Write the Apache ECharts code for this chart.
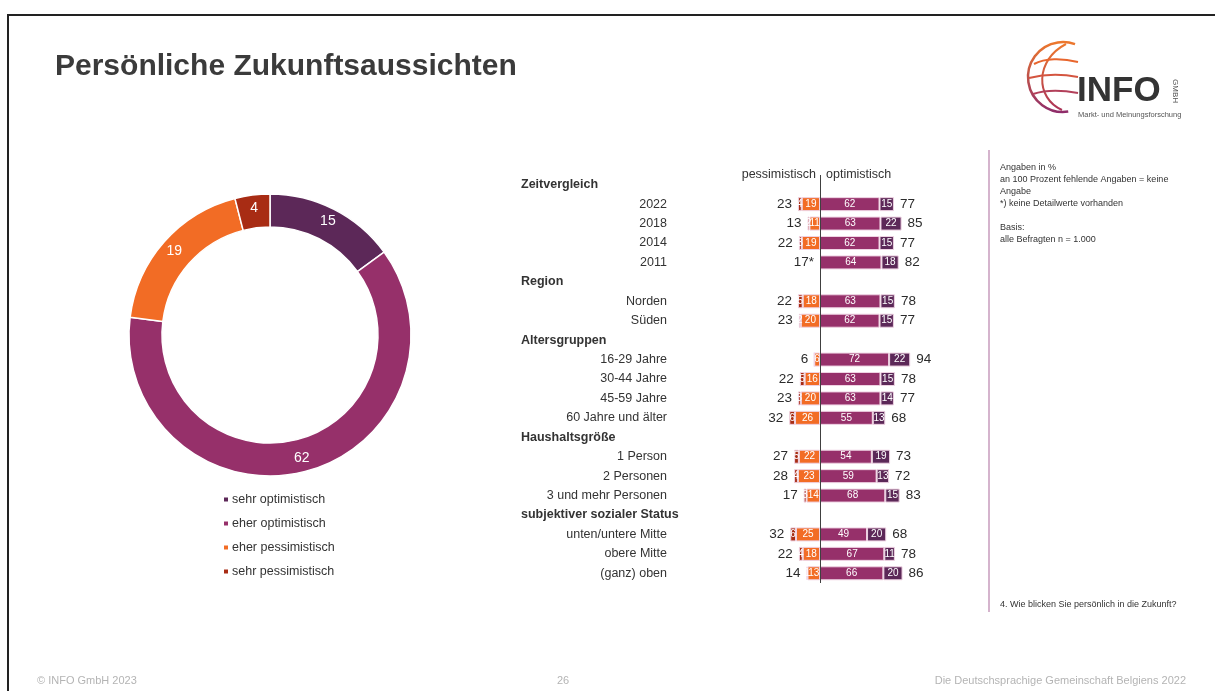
<!DOCTYPE html>
<html>
<head>
<meta charset="utf-8">
<title>Persönliche Zukunftsaussichten</title>
<script src="https://cdn.jsdelivr.net/npm/echarts@6/dist/echarts.min.js"></script>
<style>
  html, body { margin: 0; padding: 0; background: #fff; }
  #chart_main { width: 1215px; height: 691px; }
</style>
</head>
<body>
<div id="chart_main"></div>
<script>
// Donut (Gesamt)
var donutLabels = ['sehr optimistisch', 'eher optimistisch', 'eher pessimistisch', 'sehr pessimistisch'];
var donutValues = [15, 62, 19, 4];
var donutColors = ['#5c2858', '#96306a', '#f26c25', '#a82c14'];

// Balken: Zeilen (Überschriften haben keine Werte)
var rowLabels = ['Zeitvergleich', '2022', '2018', '2014', '2011',
    'Region', 'Norden', 'Süden',
    'Altersgruppen', '16-29 Jahre', '30-44 Jahre', '45-59 Jahre', '60 Jahre und älter',
    'Haushaltsgröße', '1 Person', '2 Personen', '3 und mehr Personen',
    'subjektiver sozialer Status', 'unten/untere Mitte', 'obere Mitte', '(ganz) oben'];
var headerRows = ['Zeitvergleich', 'Region', 'Altersgruppen', 'Haushaltsgröße', 'subjektiver sozialer Status'];

var sehrPess  = [null, 4, 2, 3, null, null, 5, 2, null, 0, 5, 3, 6, null, 5, 4, 3, null, 6, 4, 1];
var eherPess  = [null, 19, 11, 19, null, null, 18, 20, null, 6, 16, 20, 26, null, 22, 23, 14, null, 25, 18, 13];
var pessTotal = [null, '23', '13', '22', '17*', null, '22', '23', null, '6', '22', '23', '32', null, '27', '28', '17', null, '32', '22', '14'];
var eherOpt   = [null, 62, 63, 62, 64, null, 63, 62, null, 72, 63, 63, 55, null, 54, 59, 68, null, 49, 67, 66];
var sehrOpt   = [null, 15, 22, 15, 18, null, 15, 15, null, 22, 15, 14, 13, null, 19, 13, 15, null, 20, 11, 20];
var optTotal  = [null, '77', '85', '77', '82', null, '78', '77', null, '94', '78', '77', '68', null, '73', '72', '83', null, '68', '78', '86'];

(function () {
    var myChart = echarts.init(document.getElementById('chart_main'));

    function neg(arr) {
        return arr.map(function (v) { return v == null ? '-' : -v; });
    }
    function pos(arr) {
        return arr.map(function (v) { return v == null ? '-' : v; });
    }
    function segLabel() {
        return {
            show: true,
            position: 'inside',
            color: '#fff',
            fontSize: 10,
            fontFamily: 'Liberation Sans',
            formatter: function (p) {
                var v = Math.abs(p.value);
                return v ? String(v) : '';
            }
        };
    }

    var pessPoints = [], optPoints = [];
    rowLabels.forEach(function (r, i) {
        if (pessTotal[i] != null) {
            pessPoints.push({ name: pessTotal[i], value: [-((sehrPess[i] || 0) + (eherPess[i] || 0)), i] });
        }
        if (optTotal[i] != null) {
            optPoints.push({ name: optTotal[i], value: [(eherOpt[i] || 0) + (sehrOpt[i] || 0), i] });
        }
    });

    var border = { borderColor: '#efd3e3', borderWidth: 1 };
    var totalLabel = { show: true, distance: 6, formatter: '{b}', color: '#2b2b2b', opacity: 1, fontSize: 13.5 };

    var option = {
        animation: false,
        textStyle: { fontFamily: 'Liberation Sans' },
        title: {
            text: 'Persönliche Zukunftsaussichten',
            left: 55,
            top: 52,
            padding: 0,
            textStyle: { fontSize: 30, fontWeight: 'bold', color: '#3b3b3b', fontFamily: 'Liberation Sans' }
        },
        legend: {
            data: donutLabels,
            orient: 'vertical',
            left: 217,
            top: 488,
            itemWidth: 6,
            itemHeight: 6,
            itemGap: 11,
            icon: 'rect',
            textStyle: { fontSize: 12.5, color: '#333', padding: [0, 0, 0, -2] }
        },
        grid: {
            left: 724,
            width: 192,
            top: 175,
            height: 408,
            outerBoundsMode: 'none'
        },
        xAxis: {
            type: 'value',
            min: -100,
            max: 100,
            show: false
        },
        yAxis: [{
            type: 'category',
            data: rowLabels,
            inverse: true,
            axisLine: { show: false, onZero: false },
            axisTick: { show: false },
            axisLabel: {
                margin: 57,
                fontSize: 12.5,
                color: '#333',
                formatter: function (v) { return headerRows.indexOf(v) >= 0 ? '' : v; }
            }
        }, {
            type: 'category',
            data: rowLabels,
            inverse: true,
            position: 'left',
            axisLine: { show: false, onZero: false },
            axisTick: { show: false },
            axisLabel: {
                margin: 203,
                align: 'left',
                fontSize: 12.5,
                fontWeight: 'bold',
                color: '#333',
                formatter: function (v) { return headerRows.indexOf(v) >= 0 ? v : ''; }
            }
        }],
        series: [
            {
                type: 'pie',
                name: 'Gesamt',
                center: [270, 335],
                radius: [108, 141],
                startAngle: 90,
                clockwise: true,
                itemStyle: { borderColor: '#fff', borderWidth: 1.5 },
                label: { show: true, position: 'inside', color: '#fff', fontSize: 14, formatter: '{c}' },
                labelLine: { show: false },
                emphasis: { disabled: true },
                data: donutLabels.map(function (n, i) {
                    return { name: n, value: donutValues[i], itemStyle: { color: donutColors[i] } };
                })
            },
            {
                type: 'bar', name: 'b_eherPess', stack: 'z', barWidth: 14,
                data: neg(eherPess),
                itemStyle: Object.assign({ color: donutColors[2] }, border),
                label: segLabel()
            },
            {
                type: 'bar', name: 'b_sehrPess', stack: 'z', barWidth: 14,
                data: neg(sehrPess),
                itemStyle: Object.assign({ color: donutColors[3] }, border),
                label: segLabel()
            },
            {
                type: 'bar', name: 'b_eherOpt', stack: 'z', barWidth: 14,
                data: pos(eherOpt),
                itemStyle: Object.assign({ color: donutColors[1] }, border),
                label: segLabel(),
                markLine: {
                    silent: true,
                    symbol: 'none',
                    label: { show: false },
                    lineStyle: { color: '#404040', width: 1, type: 'solid' },
                    data: [{ xAxis: 0 }]
                }
            },
            {
                type: 'bar', name: 'b_sehrOpt', stack: 'z', barWidth: 14,
                data: pos(sehrOpt),
                itemStyle: Object.assign({ color: donutColors[0] }, border),
                label: segLabel()
            },
            {
                type: 'scatter', name: 'pessTotal', symbolSize: 0,
                itemStyle: { opacity: 1 },
                data: pessPoints,
                label: Object.assign({ position: 'left' }, totalLabel)
            },
            {
                type: 'scatter', name: 'optTotal', symbolSize: 0,
                itemStyle: { opacity: 1 },
                data: optPoints,
                label: Object.assign({ position: 'right' }, totalLabel)
            }
        ],
        graphic: [
            // Rahmen
            { type: 'rect', shape: { x: 8, y: 15, width: 1230, height: 700 }, style: { fill: 'none', stroke: '#222', lineWidth: 2 }, silent: true },
            // Spaltenköpfe
            { type: 'text', x: 816, y: 175, style: { text: 'pessimistisch', fontSize: 12.5, fill: '#333', align: 'right', verticalAlign: 'middle', fontFamily: 'Liberation Sans' } },
            { type: 'text', x: 826, y: 175, style: { text: 'optimistisch', fontSize: 12.5, fill: '#333', align: 'left', verticalAlign: 'middle', fontFamily: 'Liberation Sans' } },
            // Hinweise rechts
            { type: 'line', shape: { x1: 989, y1: 150, x2: 989, y2: 612 }, style: { stroke: '#c79bbd', lineWidth: 1.5 } },
            { type: 'text', x: 1000, y: 162, style: {
                text: 'Angaben in %\nan 100 Prozent fehlende Angaben = keine\nAngabe\n*) keine Detailwerte vorhanden\n\nBasis:\nalle Befragten n = 1.000',
                fontSize: 9, lineHeight: 12, fill: '#333', fontFamily: 'Liberation Sans' } },
            { type: 'text', x: 1000, y: 605, style: { text: '4. Wie blicken Sie persönlich in die Zukunft?', fontSize: 9, fill: '#333', verticalAlign: 'middle', fontFamily: 'Liberation Sans' } },
            // Fußzeile
            { type: 'text', x: 37, y: 681, style: { text: '© INFO GmbH 2023', fontSize: 11, fill: '#b4b4b4', verticalAlign: 'middle', fontFamily: 'Liberation Sans' } },
            { type: 'text', x: 563, y: 681, style: { text: '26', fontSize: 11, fill: '#b4b4b4', align: 'center', verticalAlign: 'middle', fontFamily: 'Liberation Sans' } },
            { type: 'text', x: 1186, y: 681, style: { text: 'Die Deutschsprachige Gemeinschaft Belgiens 2022', fontSize: 11, fill: '#b4b4b4', align: 'right', verticalAlign: 'middle', fontFamily: 'Liberation Sans' } },
            // Logo
            { type: 'arc', shape: { cx: 1063, cy: 77, r: 35, startAngle: Math.PI / 2 - 0.15, endAngle: Math.PI * 1.5 + 0.35 },
              style: { fill: 'none', lineWidth: 2.5, stroke: { type: 'linear', x: 0, y: 0, x2: 0, y2: 1, colorStops: [{ offset: 0, color: '#f07a2a' }, { offset: 1, color: '#8c2a6c' }] } } },
            { type: 'bezierCurve', shape: { x1: 1066, y1: 44, cpx1: 1035, cpy1: 60, cpx2: 1035, cpy2: 98, x2: 1062, y2: 110 },
              style: { fill: 'none', lineWidth: 2, stroke: { type: 'linear', x: 0, y: 0, x2: 0, y2: 1, colorStops: [{ offset: 0, color: '#f07a2a' }, { offset: 1, color: '#a8305a' }] } } },
            { type: 'bezierCurve', shape: { x1: 1034, y1: 64, cpx1: 1045, cpy1: 58, cpx2: 1062, cpy2: 58, x2: 1078, y2: 62 }, style: { fill: 'none', lineWidth: 2, stroke: '#e8662e' } },
            { type: 'bezierCurve', shape: { x1: 1029, y1: 78, cpx1: 1045, cpy1: 74, cpx2: 1062, cpy2: 74, x2: 1078, y2: 77 }, style: { fill: 'none', lineWidth: 2, stroke: '#d45540' } },
            { type: 'bezierCurve', shape: { x1: 1033, y1: 94, cpx1: 1045, cpy1: 90, cpx2: 1062, cpy2: 90, x2: 1078, y2: 93 }, style: { fill: 'none', lineWidth: 2, stroke: '#b2405a' } },
            { type: 'text', x: 1077, y: 91, style: { text: 'INFO', fontSize: 35, fontWeight: 'bold', fill: '#333', verticalAlign: 'middle', fontFamily: 'Liberation Sans' } },
            { type: 'text', x: 1175, y: 91, rotation: -Math.PI / 2, style: { text: 'GMBH', fontSize: 8, fill: '#555', align: 'center', verticalAlign: 'middle', fontFamily: 'Liberation Sans' } },
            { type: 'text', x: 1078, y: 115, style: { text: 'Markt- und Meinungsforschung', fontSize: 7.5, fill: '#555', verticalAlign: 'middle', fontFamily: 'Liberation Sans' } }
        ]
    };

    myChart.setOption(option);
})();
</script>
</body>
</html>
